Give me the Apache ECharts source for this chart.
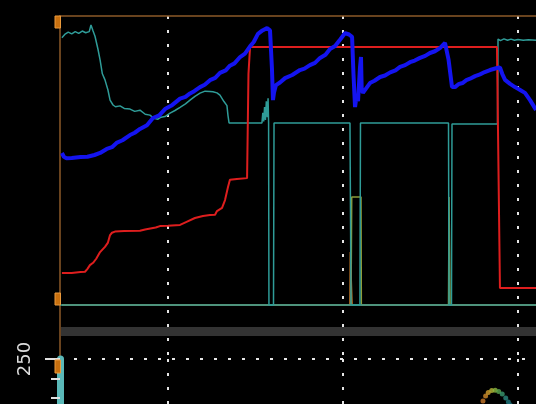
<!DOCTYPE html>
<html>
<head>
<meta charset="utf-8">
<script src="https://cdn.jsdelivr.net/npm/echarts@6/dist/echarts.min.js"></script>
<style>
  html, body { margin: 0; padding: 0; background: #000; }
  #chart { width: 536px; height: 404px; }
</style>
</head>
<body>
<div id="chart"></div>
<script>
// x = time (s), gridlines every 10 s; top panel y = percent of range
var timeMin = 3.83, timeMax = 31.03;

var tealPoints = [
  [3.94,92.5],[4.1,93.6],[4.3,94.4],[4.5,93.8],[4.7,94.6],[4.9,94.0],[5.1,94.8],[5.3,94.2],[5.5,94.6],
  [5.6,96.9],[5.72,94.8],[5.83,93.0],[6.0,88.5],[6.12,84.8],[6.25,80.0],[6.4,77.9],[6.57,74.4],[6.69,70.9],
  [6.86,69.2],[7.0,68.6],[7.26,68.9],[7.5,68.0],[7.83,67.8],[8.1,67.0],[8.4,67.4],[8.7,66.0],[8.97,65.7],
  [9.2,64.6],[9.43,64.3],[9.6,65.0],[9.83,65.2],[10.12,66.4],[10.4,67.3],[10.69,68.4],[11.0,69.6],[11.26,70.9],
  [11.54,72.2],[11.83,73.3],[12.12,74.0],[12.4,73.9],[12.57,73.8],[12.8,73.4],[12.97,72.6],[13.2,70.4],
  [13.37,69.0],[13.43,65.5],[13.49,63.0],[15.37,63.0],[15.42,66.5],[15.47,63.5],[15.52,68.5],[15.57,64.0],
  [15.62,70.5],[15.67,65.0],[15.72,71.5],[15.75,63.0],[15.77,0],[16.03,0],[16.06,63.0],[20.4,63.0],[20.46,0],
  [20.97,0],[21.0,63.0],[26.03,63.0],[26.06,0],[26.2,0],[26.23,62.6],[28.83,62.6],[28.86,92.0],[29.0,91.5],
  [29.2,92.1],[29.4,91.6],[29.6,92.0],[29.8,91.6],[30.0,91.9],[30.3,91.6],[30.6,91.8],[31.03,91.6]
];
var baselinePoints = [[3.83,0],[31.03,0]];
var olivePoints = [
  [3.94,0],[20.46,0],[20.5,37.4],[21.03,37.4],[21.05,0],[26.03,0],[26.06,37.4],[26.1,37.4],[26.12,0],[31.03,0]
];
var orangePoints = [[3.94,0],[20.4,0],[20.42,18.3],[20.5,18.3],[20.52,0],[31.03,0]];
var redPoints = [
  [3.94,11.1],[4.5,11.1],[5.0,11.4],[5.26,11.5],[5.4,12.5],[5.54,13.8],[5.72,14.6],[5.9,16.0],[6.12,18.3],
  [6.4,20.1],[6.57,21.6],[6.69,24.2],[6.8,25.0],[6.97,25.4],[7.5,25.6],[8.4,25.7],[8.69,26.1],[8.8,26.6],
  [9.3,26.8],[9.54,27.3],[10.0,27.4],[10.69,27.7],[11.0,28.6],[11.54,30.1],[12.0,30.8],[12.4,31.1],[12.69,31.2],
  [12.8,32.5],[13.09,33.6],[13.26,36.3],[13.43,40.8],[13.54,43.3],[13.94,43.6],[14.52,43.9],[14.6,44.0],
  [14.6,80.0],[14.69,89.3],[28.8,89.3],[28.97,5.9],[31.03,5.9]
];
var bluePoints = [
  [3.94,52.6],[4.05,51.3],[4.2,50.8],[4.5,50.9],[5.0,51.2],[5.4,51.3],[5.8,51.9],[6.12,52.6],[6.5,54.0],
  [6.8,54.6],[7.09,56.2],[7.4,57.0],[7.83,58.8],[8.1,59.6],[8.4,60.9],[8.8,62.2],[9.14,64.7],[9.5,65.6],
  [9.83,67.8],[10.2,69.0],[10.69,71.4],[11.0,72.0],[11.26,73.2],[11.5,74.0],[11.83,75.4],[12.1,76.2],
  [12.4,77.8],[12.7,78.6],[12.97,80.3],[13.3,81.2],[13.54,82.8],[13.8,83.6],[14.12,85.8],[14.4,87.0],
  [14.69,89.5],[14.9,91.0],[15.14,93.8],[15.4,95.0],[15.66,95.8],[15.83,95.0],
  [15.94,82.0],[16.0,70.9],[16.06,73.5],[16.17,76.1],[16.4,77.0],[16.69,78.5],[17.1,79.6],[17.54,81.3],
  [17.8,81.8],[18.11,83.0],[18.4,83.8],[18.69,85.5],[19.0,86.6],[19.26,88.6],[19.55,89.6],[19.83,91.8],
  [20.12,94.1],[20.35,93.6],[20.52,92.8],[20.6,80.0],[20.69,68.5],[20.78,72.5],
  [20.86,70.5],[20.97,82.0],[21.03,85.8],[21.07,74.5],[21.14,73.4],[21.54,76.8],[21.8,77.6],[22.12,78.9],
  [22.4,79.4],[22.7,80.5],[23.0,81.2],[23.26,82.4],[23.55,83.0],[23.83,84.0],[24.1,84.6],[24.4,85.5],
  [24.7,86.2],[24.97,87.2],[25.25,87.8],[25.54,88.9],[25.83,90.7],[25.94,91.2],[26.03,85.0],
  [26.23,75.4],[26.4,75.4],[26.6,76.4],[26.83,76.8],[27.05,77.8],[27.26,78.3],[27.55,79.2],[27.83,79.8],
  [28.1,80.6],[28.4,81.3],[28.8,82.0],[28.97,82.2],[29.1,80.0],[29.26,77.9],[29.55,76.5],[29.83,75.4],
  [30.1,74.5],[30.4,73.4],[30.69,70.9],[31.03,67.5]
];
// lower panel
var lowerMin = 150, lowerMax = 250, lowerStep = 50;
var blobPoints = [
  [28.0,228.5],[28.15,231.0],[28.3,232.8],[28.5,233.8],[28.7,234.0],[28.9,233.3],[29.1,232.0],[29.3,230.0],[29.45,228.0],[29.55,226.5]
];
var blobColors = ['#c8782a','#d08a2a','#d4a030','#b8b838','#8cb840','#5aa850','#3a9a70','#2a8a80','#207a80','#1a6a78'];

var brown = '#8c5a28';
var dotted = {color: '#e6e6e6', width: 2, type: [3, 11]};

function handle(y, h) {
  return {type: 'rect', shape: {x: 55, y: y, width: 5.5, height: h},
          style: {fill: '#c8700f', stroke: '#eb9a3c', lineWidth: 1}, z: 100};
}

var myChart = echarts.init(document.getElementById('chart'));
var option = {
  backgroundColor: '#000',
  animation: false,
  grid: [
    {left: 60, top: 16, right: 0, height: 343, outerBoundsMode: 'none'},
    {left: 60, top: 359, right: 0, height: 195, outerBoundsMode: 'none'}
  ],
  xAxis: [
    {
      gridIndex: 0, type: 'value', min: timeMin, max: timeMax, position: 'top',
      minInterval: 10, maxInterval: 10,
      axisLine: {show: true, onZero: false, lineStyle: {color: brown, width: 1.5}},
      axisTick: {show: false}, axisLabel: {show: false},
      splitLine: {show: true, showMinLine: false, showMaxLine: false, lineStyle: dotted}
    },
    {
      gridIndex: 1, type: 'value', min: timeMin, max: timeMax,
      minInterval: 10, maxInterval: 10,
      axisLine: {show: false}, axisTick: {show: false}, axisLabel: {show: false},
      splitLine: {show: true, showMinLine: false, showMaxLine: false, lineStyle: dotted}
    }
  ],
  yAxis: [
    {
      gridIndex: 0, type: 'value', min: -18.69, max: 100,
      axisLine: {show: true, onZero: false, lineStyle: {color: brown, width: 1.5}},
      axisTick: {show: false}, axisLabel: {show: false}, splitLine: {show: false}
    },
    {
      gridIndex: 1, type: 'value', min: lowerMin, max: lowerMax, interval: lowerStep,
      axisLine: {show: true, onZero: false, lineStyle: {color: '#5ab8b8', width: 7}},
      axisTick: {show: true, length: 15, lineStyle: {color: '#e0e0e0', width: 2}},
      minorTick: {show: true, splitNumber: 5, length: 9, lineStyle: {color: '#e0e0e0', width: 2}},
      axisLabel: {rotate: 90, fontSize: 18, color: '#dddddd', margin: 26, fontFamily: 'DejaVu Sans'},
      splitLine: {show: true, lineStyle: dotted}
    }
  ],
  graphic: [
    {type: 'rect', shape: {x: 61, y: 327, width: 475, height: 9}, style: {fill: '#333333'}, z: 50},
    handle(16, 12),
    handle(293, 12),
    handle(360, 13)
  ],
  series: [
    {type: 'line', name: 'olive', data: olivePoints, showSymbol: false,
     lineStyle: {color: '#8d9c3a', width: 1.5}},
    {type: 'line', name: 'orange', data: orangePoints, showSymbol: false,
     lineStyle: {color: '#c47a2a', width: 1.5}},
    {type: 'line', name: 'baseline', data: baselinePoints, showSymbol: false,
     lineStyle: {color: '#2f9c98', width: 1.5}},
    {type: 'line', name: 'teal', data: tealPoints, showSymbol: false,
     lineStyle: {color: '#2f9c98', width: 1.5}},
    {type: 'line', name: 'red', data: redPoints, showSymbol: false,
     lineStyle: {color: '#de1e1e', width: 2}},
    {type: 'line', name: 'blue', data: bluePoints, showSymbol: false,
     lineStyle: {color: '#1414f0', width: 4}},
    {type: 'scatter', name: 'blob', xAxisIndex: 1, yAxisIndex: 1, symbolSize: 5,
     data: blobPoints.map(function (p, i) {
       return {value: p, itemStyle: {color: blobColors[i]}};
     })}
  ]
};
myChart.setOption(option);
</script>
</body>
</html>
